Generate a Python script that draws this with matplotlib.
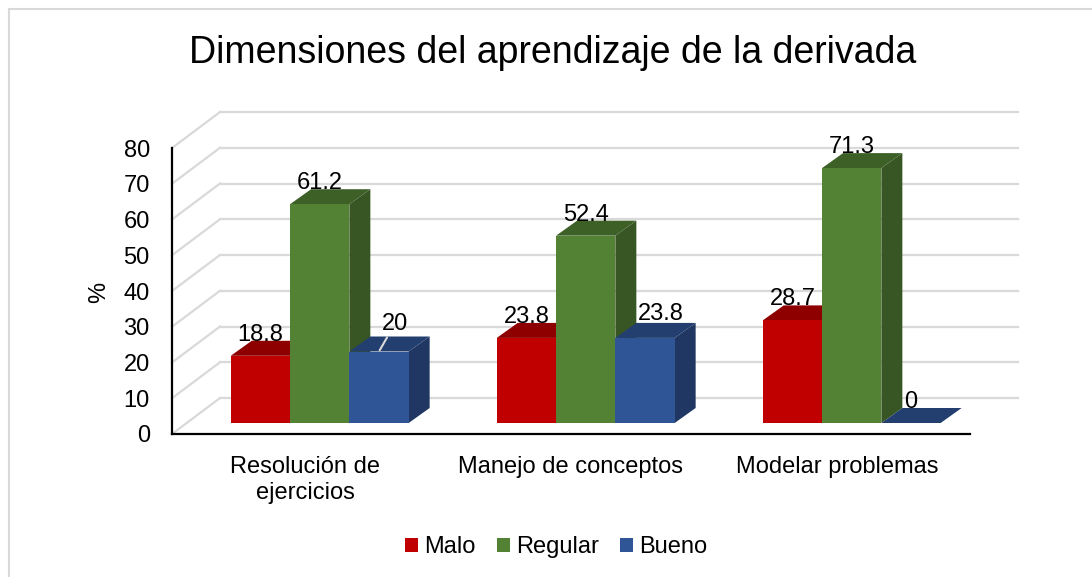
import matplotlib.pyplot as plt
from matplotlib.patches import Polygon, Rectangle, Patch

plt.rcParams['font.family'] = ['Liberation Sans', 'DejaVu Sans']

# data
categories = ['Resolución de\nejercicios', 'Manejo de conceptos', 'Modelar problemas']
series = ['Malo', 'Regular', 'Bueno']
malo = [18.8, 23.8, 28.7]
regular = [61.2, 52.4, 71.3]
bueno = [20, 23.8, 0]
y_ticks = [0, 10, 20, 30, 40, 50, 60, 70, 80]

front_colors = ['#C00000', '#548235', '#2F5597']
top_colors = ['#8E0000', '#3D6027', '#233F6F']
side_colors = ['#8E0000', '#375623', '#1F3762']
grid_color = '#D9D9D9'

# pseudo-3D geometry (pixel sizes turned into data units)
PX_X = 266.0    # pixels per category
PX_Y = 3.575    # pixels per percent
bar_w = 59.3 / PX_X
plane_dx, plane_dy = 14.7 / PX_X, 11 / PX_Y   # bars sit a little behind the axis plane
depth_dx, depth_dy = 21 / PX_X, 15 / PX_Y     # bar depth
wall_dx, wall_dy = 48 / PX_X, 36 / PX_Y       # back wall offset

fig = plt.figure(figsize=(10.92, 5.77), dpi=100)
ax = fig.add_axes([172 / 1092, (577 - 434) / 577, 798 / 1092, 286 / 577])
ax.set_xlim(-0.5, 2.5)
ax.set_ylim(0, 80)
ax.patch.set_visible(False)

# chart border
fig.patches.append(Rectangle((9 / 1092, -0.1), 1.2, 0.1 + (1 - 9 / 577),
                             transform=fig.transFigure, fill=False,
                             edgecolor=grid_color, lw=1.5))

# back wall and side wall grid
x0, x1 = ax.get_xlim()
for v in y_ticks:
    ax.plot([x0 + wall_dx, x1 + wall_dx], [v + wall_dy, v + wall_dy],
            color=grid_color, lw=1.6, zorder=1, clip_on=False)
    ax.plot([x0, x0 + wall_dx], [v, v + wall_dy],
            color=grid_color, lw=1.6, zorder=1, clip_on=False)


def draw_box(xl, h, j):
    xr = xl + bar_w
    b = plane_dy
    t = b + h
    side = [(xr, b), (xr + depth_dx, b + depth_dy), (xr + depth_dx, t + depth_dy), (xr, t)]
    top = [(xl, t), (xr, t), (xr + depth_dx, t + depth_dy), (xl + depth_dx, t + depth_dy)]
    front = [(xl, b), (xr, b), (xr, t), (xl, t)]
    ax.add_patch(Polygon(side, closed=True, facecolor=side_colors[j], lw=0, zorder=2, clip_on=False))
    ax.add_patch(Polygon(top, closed=True, facecolor=top_colors[j], lw=0, zorder=2, clip_on=False))
    if h > 0:
        ax.add_patch(Polygon(front, closed=True, facecolor=front_colors[j], lw=0, zorder=2, clip_on=False))


# label nudges in pixels (moved labels in the original)
nudges = {(0, 2): (16, 7), (1, 2): (16, 3)}

values = [malo, regular, bueno]
for i in range(len(categories)):
    for j, vals in enumerate(values):
        xl = i - 1.5 * bar_w + j * bar_w + plane_dx
        v = vals[i]
        draw_box(xl, v, j)
        cx = xl + bar_w / 2
        txt = f'{v:g}'
        if (i, j) in nudges:
            dx, dy = nudges[(i, j)]
            ax.annotate(txt, xy=(cx, v + plane_dy), xytext=(dx, 15 + dy),
                        textcoords='offset pixels', ha='center', va='baseline',
                        fontsize=17, zorder=5, annotation_clip=False,
                        arrowprops=dict(arrowstyle='-', color=grid_color, lw=1.5,
                                        shrinkA=0, shrinkB=1) if (i, j) == (0, 2) else None)
        else:
            ax.text(cx, v + plane_dy + depth_dy, txt, ha='center', va='baseline',
                    fontsize=17, zorder=5)

# axes
for s in ['top', 'right']:
    ax.spines[s].set_visible(False)
for s in ['left', 'bottom']:
    ax.spines[s].set_color('black')
    ax.spines[s].set_linewidth(1.6)
ax.set_yticks(y_ticks)
ax.tick_params(axis='y', length=0, pad=16, labelsize=17)
ax.set_xticks(range(len(categories)), categories)
ax.tick_params(axis='x', length=0, pad=16, labelsize=17)
for lab in ax.get_xticklabels():
    lab.set_linespacing(1.25)
ax.set_ylabel('%', fontsize=17)
ax.yaxis.set_label_coords(-0.0777, 0.496)

fig.text(553 / 1092, 1 - 53 / 577, 'Dimensiones del aprendizaje de la derivada',
         ha='center', va='center', fontsize=27)

handles = [Patch(facecolor=c, label=s) for c, s in zip(front_colors, series)]
fig.legend(handles=handles, loc='center', bbox_to_anchor=(556 / 1092, 1 - 547 / 577),
           ncol=3, frameon=False, fontsize=17, handlelength=0.55, handleheight=0.55,
           handletextpad=0.25, columnspacing=0.9)

fig.savefig('out.png', dpi=100)
